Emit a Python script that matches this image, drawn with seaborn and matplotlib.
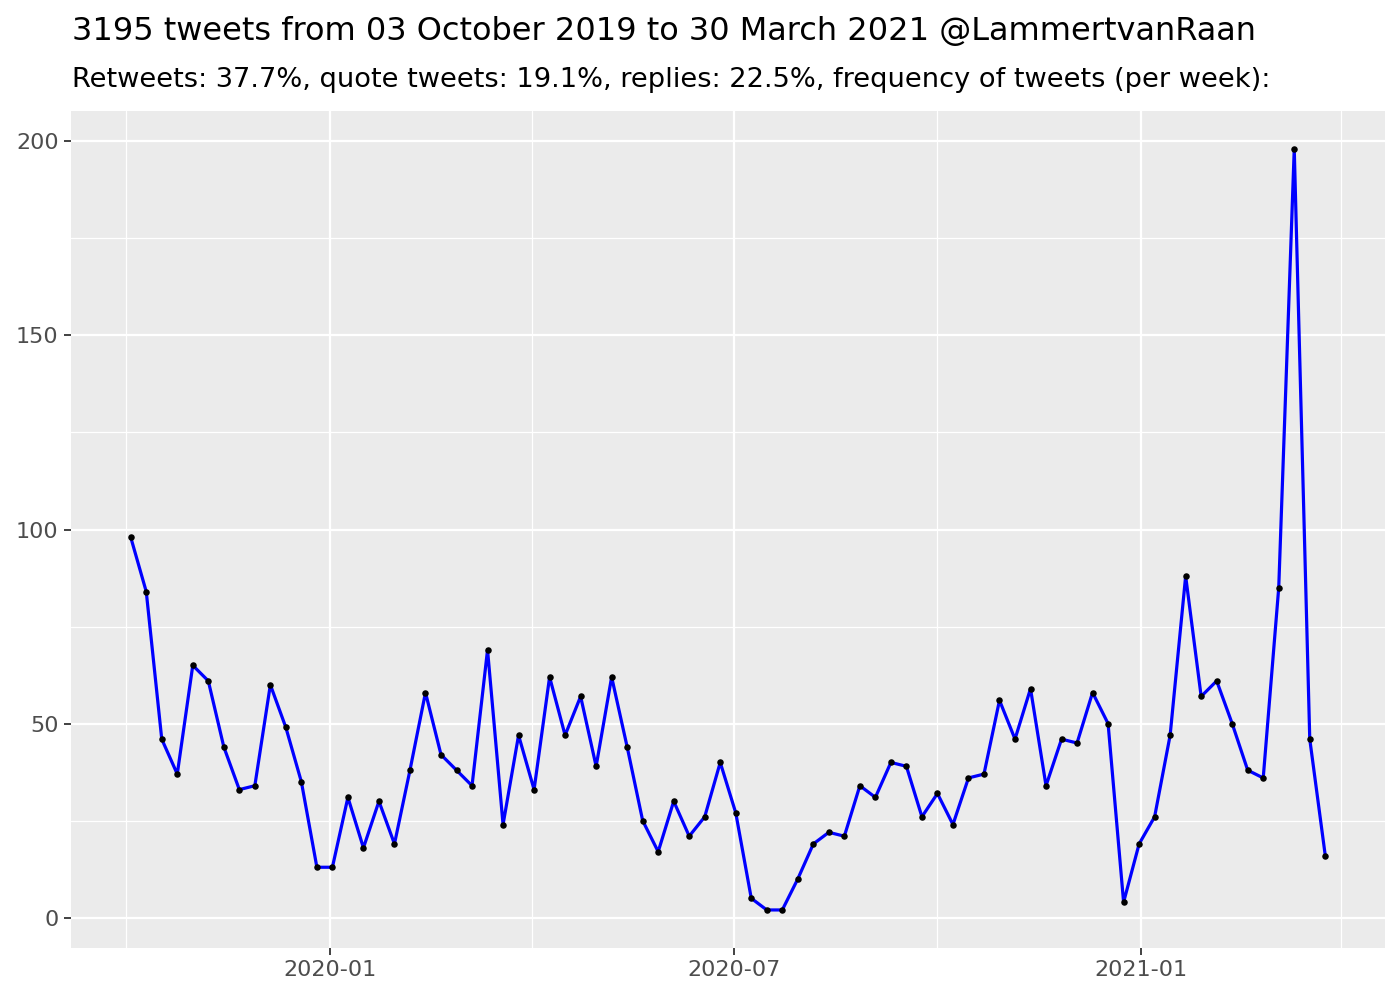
import numpy as np
import pandas as pd
import matplotlib
matplotlib.use("Agg")
import matplotlib.pyplot as plt
from matplotlib.ticker import MultipleLocator
import seaborn as sns

# ---- data ----
start_date = "2019-10-03"
tweets_per_week = [98, 84, 46, 37, 65, 61, 44, 33, 34, 60, 49, 35, 13, 13, 31, 18, 30, 19,
                   38, 58, 42, 38, 34, 69, 24, 47, 33, 62, 47, 57, 39, 62, 44, 25, 17, 30,
                   21, 26, 40, 27, 5, 2, 2, 10, 19, 22, 21, 34, 31, 40, 39, 26, 32, 24,
                   36, 37, 56, 46, 59, 34, 46, 45, 58, 50, 4, 19, 26, 47, 88, 57, 61, 50,
                   38, 36, 85, 198, 46, 16]
title = "3195 tweets from 03 October 2019 to 30 March 2021 @LammertvanRaan"
subtitle = "Retweets: 37.7%, quote tweets: 19.1%, replies: 22.5%, frequency of tweets (per week):"
major_x_ticks = ["2020-01-01", "2020-07-01", "2021-01-01"]
minor_x_ticks = ["2019-10-01", "2020-04-01", "2020-10-01", "2021-04-01"]
x_tick_labels = ["2020-01", "2020-07", "2021-01"]

weeks = pd.date_range(start_date, periods=len(tweets_per_week), freq="7D")
df = pd.DataFrame({"week": weeks, "n": tweets_per_week})

sns.set_theme(style="darkgrid")
plt.rcParams["font.family"] = ["DejaVu Sans"]

fig = plt.figure(figsize=(14, 10), dpi=100)
ax = fig.add_axes([71 / 1400, 1 - 948 / 1000, (1385 - 71) / 1400, (948 - 111) / 1000])
ax.set_facecolor("#EBEBEB")
for s in ax.spines.values():
    s.set_visible(False)

sns.lineplot(data=df, x="week", y="n", ax=ax, color="#0000FF", linewidth=2.3, zorder=3)
sns.scatterplot(data=df, x="week", y="n", ax=ax, color="black", s=22, linewidth=0, zorder=4)

# limits with 5% expansion like ggplot
xmin, xmax = df["week"].min(), df["week"].max()
span = xmax - xmin
ax.set_xlim(xmin - span * 0.05, xmax + span * 0.05)
ymin, ymax = df["n"].min(), df["n"].max()
yr = ymax - ymin
ax.set_ylim(ymin - 0.05 * yr, ymax + 0.05 * yr)

ax.set_xticks(pd.to_datetime(major_x_ticks))
ax.set_xticklabels(x_tick_labels)
ax.set_xticks(pd.to_datetime(minor_x_ticks), minor=True)
ax.yaxis.set_major_locator(MultipleLocator(50))
ax.yaxis.set_minor_locator(MultipleLocator(25))

ax.grid(which="major", color="white", linewidth=1.6)
ax.grid(which="minor", color="white", linewidth=0.9)
ax.set_axisbelow(True)

ax.tick_params(axis="both", which="major", length=5, width=1.3, color="#333333",
               labelsize=16, labelcolor="#4D4D4D", pad=4, bottom=True, left=True)
ax.tick_params(axis="both", which="minor", length=0)
ax.set_xlabel("")
ax.set_ylabel("")

fig.text(72 / 1400, 1 - 40 / 1000, title, fontsize=23, ha="left", va="baseline", color="black")
fig.text(72 / 1400, 1 - 87 / 1000, subtitle, fontsize=19.6, ha="left", va="baseline", color="black")

fig.savefig("out.png", dpi=100, facecolor="white")
